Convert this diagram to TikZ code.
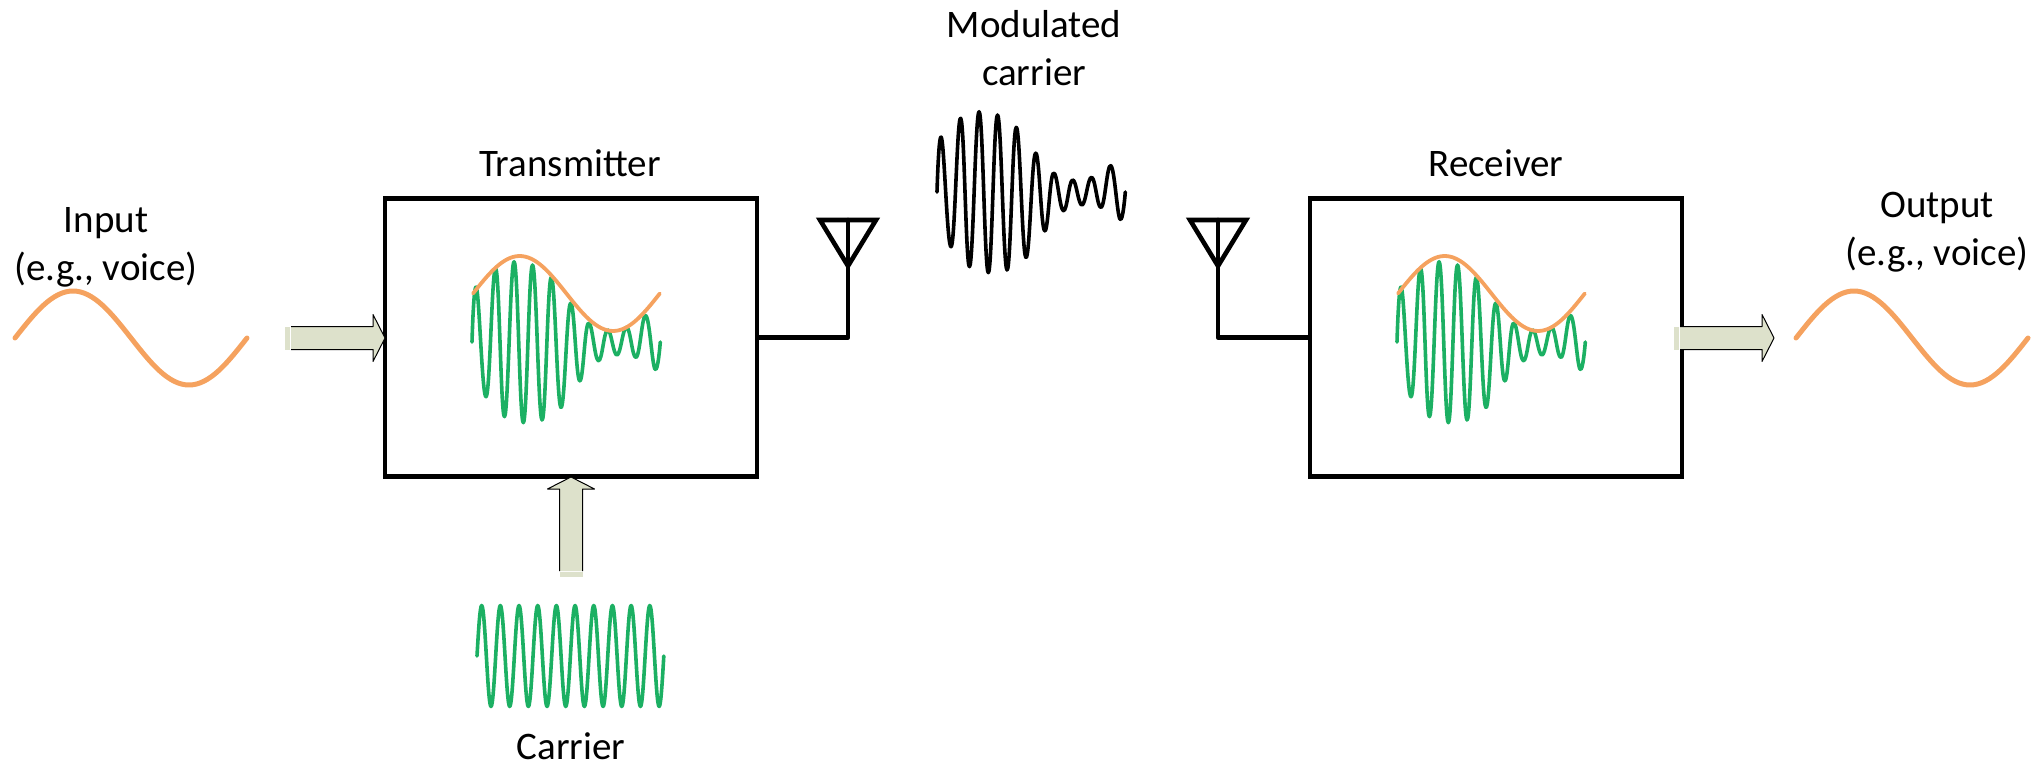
\documentclass[tikz,border=0pt]{standalone}
\usepackage{fontspec}
\setmainfont{Carlito}
\usepackage{xcolor}
\usetikzlibrary{arrows.meta,calc,positioning}
\definecolor{wavegreen}{HTML}{1CB063}
\definecolor{waveorange}{HTML}{F5A25F}
\definecolor{arrowfill}{HTML}{DDE1CB}
\tikzset{
every picture/.style={line cap=round,line join=round},
block box/.style={
  draw=black,
  line width=2.3pt,
  line join=miter,
  minimum width=186pt,
  minimum height=139pt,
  inner sep=0pt
},
fig label/.style={font=\fontsize{19.5}{24}\selectfont, text=black, align=center, inner sep=0pt},
fig wire/.style={draw=black, line width=2.3pt},
antenna line/.style={draw=black, line width=2.3pt, line join=miter},
tone line/.style={draw=waveorange, line width=2.5pt},
envelope line/.style={draw=waveorange, line width=1.9pt},
carrier line/.style={draw=wavegreen, line width=1.8pt},
signal line/.style={draw=black, line width=1.8pt},
% tip of the arrow at the origin, pointing along local x
block arrow/.pic={
  \fill[arrowfill] (-100,-11.5) rectangle (-95,11.5);
  \fill[arrowfill] (-94,-11.5) -- (-12,-11.5) -- (-12,-23.5) -- (0,0) -- (-12,23.5) -- (-12,11.5) -- (-94,11.5) -- cycle;
  \draw[black, line width=0.5pt, line cap=butt] (-94,-11.5) -- (-12,-11.5) -- (-12,-23.5) -- (0,0) -- (-12,23.5) -- (-12,11.5) -- (-94,11.5);
},
% one period of the slow tone
slow tone/.pic={
  \draw[pic actions] (0,0) sin (\tonequarter,-\toneamp) cos (2*\tonequarter,0) sin (3*\tonequarter,\toneamp) cos (4*\tonequarter,0);
},
mod wave/.pic={
  \draw[pic actions] plot[smooth, tension=0.72] coordinates {(0,0) (4.6,-53.7) (14.2,54.7) (23.7,-73.7) (32.5,74.7) (42.1,-80.3) (51.3,80.7) (60.5,-77) (70,78) (79.2,-64.7) (88.8,65.3) (98.4,-38.7) (107.5,38.7) (116.3,-18.7) (126.3,18.7) (135.5,-12) (145,13) (154.6,-14.7) (164.2,15.3) (173.8,-26.3) (182.9,27) (188.3,0)};
}
}

\begin{document}
\begin{tikzpicture}[x=0.5pt,y=-0.5pt]
\useasboundingbox (0,0) rectangle (2033,770);
\node[block box] (txbox) at (571,337.5) {};
\node[block box] (rxbox) at (1496,337.5) {};
\node[fig label] (txlabel) at (570,163) {Transmitter};
\node[fig label] (rxlabel) at (1496,163) {Receiver};
\node[fig label] (inlabel) at (106,247) {Input\\(e.g., voice)};
\node[fig label] (outlabel) at (1937,232) {Output\\(e.g., voice)};
\node[fig label] (modlabel) at (1034,48) {Modulated\\carrier};
\node[fig label] (carlabel) at (571,746) {Carrier};
% antennas
\coordinate (txant) at (848,220);
\coordinate (rxant) at (1218,220);
\draw[fig wire] (txbox.east) -| (txant);
\draw[fig wire] (rxbox.west) -| (rxant);
\foreach \ant in {txant,rxant} {
\draw[antenna line] ($(\ant)+(-28,0)$) -- ($(\ant)+(28,0)$) -- ($(\ant)+(0,46)$) -- cycle;
}
% input and output tones
\def\tonequarter{58}
\def\toneamp{47}
\foreach \x in {15,1796} {
\pic[tone line] at (\x,338) {slow tone};
}
% modulated waves
\pic[signal line] at (937,192) {mod wave};
\foreach \x in {472,1397} {
\pic[carrier line] at (\x,342) {mod wave};
}
\def\tonequarter{46.7}
\def\toneamp{37.5}
\foreach \x in {473,1398} {
\pic[envelope line] at (\x,293.5) {slow tone};
}
% carrier
\draw[carrier line] (477,656) foreach \k in {1,...,10} {
  sin ++(4.67,-50.5) cos ++(4.67,50.5) sin ++(4.67,50.5) cos ++(4.67,-50.5)
};
% block arrows
\pic at (385,338) {block arrow};
\pic at (1774,338) {block arrow};
\pic[rotate=90] at (571,477) {block arrow};
\end{tikzpicture}
\end{document}
